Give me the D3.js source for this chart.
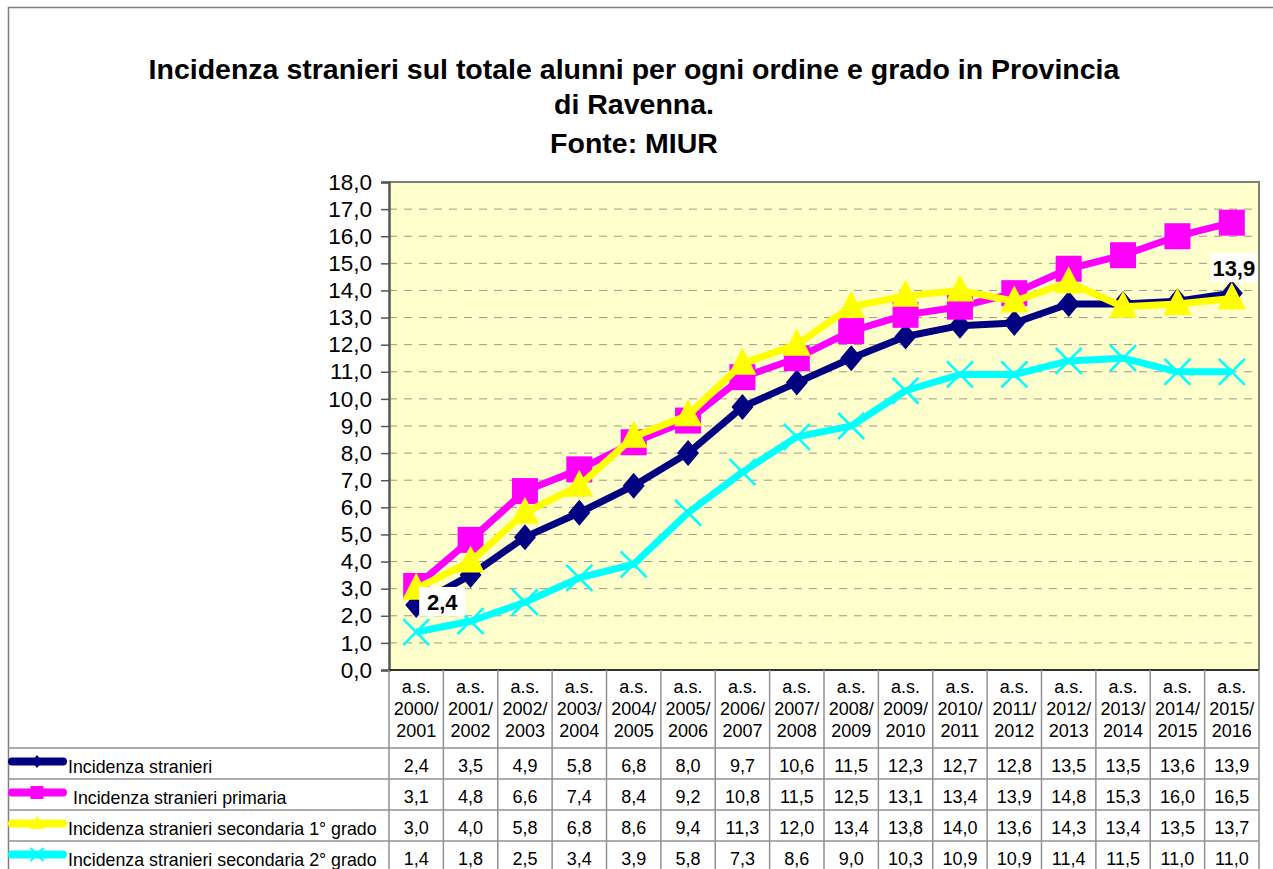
<html>
  <head>
    <style>
      body { margin: 0; background: #fff; }
      text { font-family: "Liberation Sans", Arial, sans-serif; }
    </style>
  </head>
  <body>
    <script src="https://d3js.org/d3.v7.min.js"></script>
    <svg id="chart" width="1273" height="869"></svg>
    <script>
      const years = ['2000/2001', '2001/2002', '2002/2003', '2003/2004', '2004/2005', '2005/2006',
        '2006/2007', '2007/2008', '2008/2009', '2009/2010', '2010/2011', '2011/2012',
        '2012/2013', '2013/2014', '2014/2015', '2015/2016'];

      const stranieri = [2.4, 3.5, 4.9, 5.8, 6.8, 8.0, 9.7, 10.6, 11.5, 12.3, 12.7, 12.8, 13.5, 13.5, 13.6, 13.9];
      const primaria = [3.1, 4.8, 6.6, 7.4, 8.4, 9.2, 10.8, 11.5, 12.5, 13.1, 13.4, 13.9, 14.8, 15.3, 16.0, 16.5];
      const secondaria1 = [3.0, 4.0, 5.8, 6.8, 8.6, 9.4, 11.3, 12.0, 13.4, 13.8, 14.0, 13.6, 14.3, 13.4, 13.5, 13.7];
      const secondaria2 = [1.4, 1.8, 2.5, 3.4, 3.9, 5.8, 7.3, 8.6, 9.0, 10.3, 10.9, 10.9, 11.4, 11.5, 11.0, 11.0];

      const seriesNames = ['Incidenza stranieri', ' Incidenza stranieri primaria',
        'Incidenza stranieri secondaria 1° grado', 'Incidenza stranieri secondaria 2° grado'];
      const yTicks = d3.range(0, 19, 1);

      const series = [
        { name: seriesNames[0], values: stranieri, color: '#000080', marker: 'diamond' },
        { name: seriesNames[1], values: primaria, color: '#ff00ff', marker: 'square' },
        { name: seriesNames[2], values: secondaria1, color: '#ffff00', marker: 'triangle' },
        { name: seriesNames[3], values: secondaria2, color: '#00ffff', marker: 'cross' },
      ];

      const fmt = (v) => v.toFixed(1).replace('.', ',');
      const svg = d3.select('#chart');

      // cornice esterna
      svg.append('path')
        .attr('d', 'M8.5,869 L8.5,7.5 L1273,7.5')
        .attr('fill', 'none').attr('stroke', '#808080').attr('stroke-width', 1.5);

      // titolo
      const title = ['Incidenza stranieri sul totale alunni per ogni ordine e grado in Provincia',
        'di Ravenna.', 'Fonte: MIUR'];
      svg.append('g').selectAll('text').data(title).enter().append('text')
        .attr('x', 634).attr('y', (_, i) => [79, 114, 153][i])
        .attr('text-anchor', 'middle').attr('font-size', 28.5).attr('font-weight', 'bold')
        .text((d) => d);

      const pLeft = 389, pRight = 1259, pTop = 182, pBottom = 670;
      const x = d3.scaleBand().domain(years).range([pLeft, pRight]);
      const y = d3.scaleLinear().domain([0, 18]).range([pBottom, pTop]);

      // area del grafico
      svg.append('rect').attr('x', pLeft).attr('y', pTop)
        .attr('width', pRight - pLeft).attr('height', pBottom - pTop).attr('fill', '#ffffcc');

      svg.append('g').selectAll('line').data(yTicks.slice(1, -1)).enter().append('line')
        .attr('x1', pLeft).attr('x2', pRight)
        .attr('y1', (d) => y(d)).attr('y2', (d) => y(d))
        .attr('stroke', '#9a9a90').attr('stroke-width', 1).attr('stroke-dasharray', '8,7');

      svg.append('path')
        .attr('d', `M${pLeft},${pTop} L${pRight},${pTop} L${pRight},${pBottom}`)
        .attr('fill', 'none').attr('stroke', '#808080').attr('stroke-width', 2);

      const yAxis = svg.append('g').attr('transform', `translate(${pLeft},0)`)
        .call(d3.axisLeft(y).tickValues(yTicks).tickFormat(fmt).tickSize(8).tickPadding(9));
      yAxis.select('.domain').attr('stroke', '#555').attr('stroke-width', 2.5);
      yAxis.selectAll('.tick line').attr('stroke', '#555').attr('stroke-width', 1.5);
      yAxis.selectAll('text').attr('font-size', 22.5).attr('fill', '#000')
        .attr('font-family', '"Liberation Sans", Arial, sans-serif');
      svg.append('line').attr('x1', pLeft).attr('x2', pRight).attr('y1', pBottom).attr('y2', pBottom)
        .attr('stroke', '#333').attr('stroke-width', 2);

      // marcatori
      const markerPath = {
        diamond: (s) => `M0,${-13 * s} L${11 * s},0 L0,${13 * s} L${-11 * s},0 Z`,
        square: (s) => `M${-13 * s},${-13 * s} h${26 * s} v${26 * s} h${-26 * s} Z`,
        triangle: (s) => `M0,${-16 * s} L${14 * s},${11 * s} L${-14 * s},${11 * s} Z`,
        cross: (s) => `M${-13 * s},${-13 * s} L${13 * s},${13 * s} M${13 * s},${-13 * s} L${-13 * s},${13 * s}`,
      };
      const cx = (i) => x(years[i]) + x.bandwidth() / 2;

      const line = d3.line().x((_, i) => cx(i)).y((d) => y(d));

      series.forEach((s) => {
        const g = svg.append('g');
        g.append('path').datum(s.values).attr('d', line)
          .attr('fill', 'none').attr('stroke', s.color).attr('stroke-width', 7)
          .attr('stroke-linejoin', 'round');
        g.selectAll('path.m').data(s.values).enter().append('path').attr('class', 'm')
          .attr('transform', (d, i) => `translate(${cx(i)},${y(d)})`)
          .attr('d', markerPath[s.marker](1))
          .attr('fill', s.marker === 'cross' ? 'none' : s.color)
          .attr('stroke', s.marker === 'cross' ? s.color : 'none')
          .attr('stroke-width', 2.5);
      });

      // etichette dati
      const labels = [{ i: 0, dx: 26, dy: -3 }, { i: 15, dx: 2, dy: -25 }];
      labels.forEach((l) => {
        const v = stranieri[l.i];
        const lx = cx(l.i) + l.dx, ly = y(v) + l.dy;
        svg.append('rect').attr('x', lx - 23).attr('y', ly - 15).attr('width', 46).attr('height', 29)
          .attr('fill', '#fff');
        svg.append('text').attr('x', lx).attr('y', ly + 8).attr('text-anchor', 'middle')
          .attr('font-size', 22).attr('font-weight', 'bold').text(fmt(v));
      });

      // tabella dati
      const rowTop = 748, rowH = 31;
      const table = svg.append('g');
      table.selectAll('line.v').data(d3.range(years.length + 1)).enter().append('line')
        .attr('x1', (i) => pLeft + i * x.bandwidth()).attr('x2', (i) => pLeft + i * x.bandwidth())
        .attr('y1', pBottom).attr('y2', 869)
        .attr('stroke', '#909090').attr('stroke-width', 1.5);
      table.selectAll('line.h').data(d3.range(4)).enter().append('line')
        .attr('x1', 8).attr('x2', pRight)
        .attr('y1', (i) => rowTop + i * rowH).attr('y2', (i) => rowTop + i * rowH)
        .attr('stroke', '#909090').attr('stroke-width', 1.5);

      years.forEach((yr, i) => {
        const parts = ['a.s.', yr.split('/')[0] + '/', yr.split('/')[1]];
        table.append('text').attr('text-anchor', 'middle').attr('font-size', 18)
          .selectAll('tspan').data(parts).enter().append('tspan')
          .attr('x', cx(i)).attr('y', (_, k) => 693 + k * 22).text((d) => d);
      });

      series.forEach((s, r) => {
        const ry = rowTop + r * rowH + rowH / 2;
        table.selectAll(null).data(s.values).enter().append('text')
          .attr('x', (_, i) => cx(i)).attr('y', ry + 8)
          .attr('text-anchor', 'middle').attr('font-size', 18).text((d) => fmt(d));
        table.append('line').attr('x1', 12).attr('x2', 63).attr('y1', ry - 2).attr('y2', ry - 2)
          .attr('stroke', s.color).attr('stroke-width', 8).attr('stroke-linecap', 'round');
        table.append('path').attr('transform', `translate(37,${ry - 2})`)
          .attr('d', markerPath[s.marker](0.5))
          .attr('fill', s.marker === 'cross' ? 'none' : s.color)
          .attr('stroke', s.marker === 'cross' ? s.color : 'none').attr('stroke-width', 2);
        table.append('text').attr('x', 68).attr('y', ry + 9).attr('font-size', 17.8)
          .attr('xml:space', 'preserve').style('white-space', 'pre').text(s.name);
      });
    </script>
  </body>
</html>
